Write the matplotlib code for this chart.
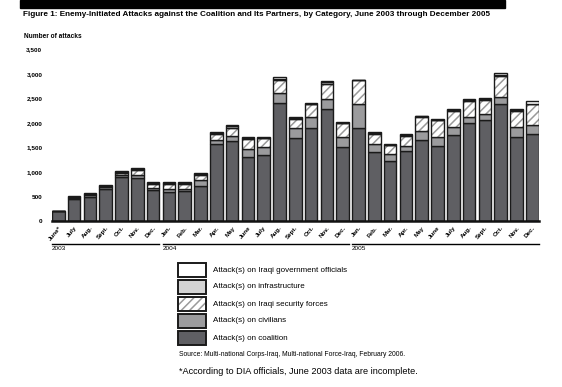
import matplotlib
matplotlib.use("Agg")
import matplotlib.pyplot as plt
import matplotlib.transforms as mtransforms
from matplotlib.patches import Rectangle
import numpy as np

plt.rcParams['font.family'] = ['Liberation Sans', 'DejaVu Sans']
plt.rcParams['hatch.linewidth'] = 1.1

# Monthly attacks, June 2003 - December 2005
months = ['June*', 'July', 'Aug.', 'Sept.', 'Oct.', 'Nov.', 'Dec.',
          'Jan.', 'Feb.', 'Mar.', 'Apr.', 'May', 'June', 'July', 'Aug.', 'Sept.',
          'Oct.', 'Nov.', 'Dec.',
          'Jan.', 'Feb.', 'Mar.', 'Apr.', 'May', 'June', 'July', 'Aug.', 'Sept.',
          'Oct.', 'Nov.', 'Dec.']
coalition = [204, 449, 496, 660, 905, 870, 633,
             585, 619, 714, 1565, 1626, 1299, 1340, 2401, 1687, 1891, 2278, 1503,
             1891, 1401, 1218, 1422, 1653, 1524, 1748, 1993, 2054, 2381, 1707, 1768]
civilians = [0, 20, 25, 25, 35, 68, 34,
             68, 34, 122, 88, 116, 170, 163, 204, 204, 224, 204, 204,
             490, 163, 150, 102, 184, 184, 163, 122, 129, 156, 204, 197]
security_forces = [0, 20, 25, 25, 48, 102, 88,
                   102, 102, 102, 122, 150, 204, 184, 265, 184, 265, 306, 286,
                   490, 218, 184, 218, 292, 354, 340, 340, 292, 415, 340, 415]
infrastructure = [0, 10, 15, 14, 10, 20, 15,
                  15, 20, 20, 14, 48, 20, 10, 27, 34, 17, 48, 14,
                  0, 14, 7, 14, 4, 7, 14, 14, 14, 34, 14, 0]
gov_officials = [0, 10, 10, 10, 22, 28, 26,
                 26, 21, 21, 20, 20, 14, 10, 41, 14, 17, 20, 13,
                 0, 13, 7, 13, 3, 7, 13, 13, 13, 27, 13, 61]
years = ['2003', '2004', '2005']
year_start = [0, 7, 19]
year_end = [6, 18, 30]

yticks = [0, 500, 1000, 1500, 2000, 2500, 3000, 3500]

W, H = 562, 387
fig = plt.figure(figsize=(W / 100, H / 100), dpi=100)

def fx(px):
    return px / W

def fy(py):
    return 1 - py / H

ax = fig.add_axes([fx(52), fy(221), fx(486.6), (221 - 49.5) / H])

x = np.arange(len(months))
bw = 0.8
ec = '#1a1a1a'
lw = 1.0
hatch_col = '#9a9a9a'

series = [
    (coalition, '#5f5f63', False),
    (civilians, '#9b9b9d', False),
    (security_forces, 'white', True),
    (infrastructure, '#d4d4d4', False),
    (gov_officials, 'white', False),
]
bottom = np.zeros(len(months))
for vals, col, hatched in series:
    vals = np.array(vals, dtype=float)
    if hatched:
        ax.bar(x, vals, bw, bottom=bottom, color='white', edgecolor=hatch_col,
               hatch='////', linewidth=0)
        ax.bar(x, vals, bw, bottom=bottom, fill=False, edgecolor=ec, linewidth=lw)
    else:
        ax.bar(x, vals, bw, bottom=bottom, color=col, edgecolor=ec, linewidth=lw)
    bottom += vals

ax.set_xlim(-bw / 2, len(months) - 1 + bw / 2)
ax.set_ylim(0, 3500)
for s in ['top', 'right', 'left']:
    ax.spines[s].set_visible(False)
ax.spines['bottom'].set_linewidth(1.8)
ax.spines['bottom'].set_color('#111111')

ax.set_yticks(yticks)
ax.set_yticklabels([f'{v:,}' for v in yticks], fontsize=4.6, fontweight='bold')
ax.tick_params(axis='y', length=0, pad=7)
ax.set_xticks(x)
ax.set_xticklabels(months, rotation=50, ha='right', va='top',
                   rotation_mode='anchor', fontsize=4.5, fontweight='bold')
ax.tick_params(axis='x', length=0, pad=3)

# year brackets below the month labels
trans = mtransforms.blended_transform_factory(ax.transData, fig.transFigure)
for yr, s, e in zip(years, year_start, year_end):
    ax.plot([s - bw / 2, e + bw / 2], [fy(243.5), fy(243.5)], color='black',
            linewidth=1.0, transform=trans, clip_on=False)
    ax.text(s - bw / 2, fy(246), yr, transform=trans, fontsize=4.6,
            ha='left', va='top')

# title band
fig.patches.append(Rectangle((fx(20), fy(8)), fx(485), 8 / H, color='black',
                             transform=fig.transFigure))
fig.text(fx(23), fy(15), 'Figure 1: Enemy-Initiated Attacks against the Coalition and Its '
         'Partners, by Category, June 2003 through December 2005',
         fontsize=5.9, fontweight='bold', ha='left', va='center')
fig.text(fx(24), fy(37), 'Number of attacks', fontsize=4.7, fontweight='bold',
         ha='left', va='center')

# legend
legend_labels = ['Attack(s) on Iraqi government officials',
                 'Attack(s) on infrastructure',
                 'Attack(s) on Iraqi security forces',
                 'Attack(s) on civilians',
                 'Attack(s) on coalition']
legend_colors = ['white', '#d4d4d4', 'white', '#9b9b9d', '#5f5f63']
legend_hatch = [None, None, '////', None, None]
for i, (lab, col, hat) in enumerate(zip(legend_labels, legend_colors, legend_hatch)):
    yc = 270 + i * 17
    if hat:
        fig.patches.append(Rectangle((fx(178), fy(yc + 7)), fx(28), 14 / H,
                                     facecolor='white', edgecolor=hatch_col,
                                     hatch=hat, linewidth=0,
                                     transform=fig.transFigure))
        fig.patches.append(Rectangle((fx(178), fy(yc + 7)), fx(28), 14 / H,
                                     fill=False, edgecolor=ec, linewidth=1.4,
                                     transform=fig.transFigure))
    else:
        fig.patches.append(Rectangle((fx(178), fy(yc + 7)), fx(28), 14 / H,
                                     facecolor=col, edgecolor=ec, linewidth=1.4,
                                     transform=fig.transFigure))
    fig.text(fx(213), fy(yc), lab, fontsize=5.8, ha='left', va='center')

fig.text(fx(179), fy(354), 'Source: Multi-national Corps-Iraq, Multi-national Force-Iraq, '
         'February 2006.', fontsize=4.9, ha='left', va='center')
fig.text(fx(179), fy(372), '*According to DIA officials, June 2003 data are incomplete.',
         fontsize=6.6, ha='left', va='center')

fig.savefig('out.png', dpi=100)
